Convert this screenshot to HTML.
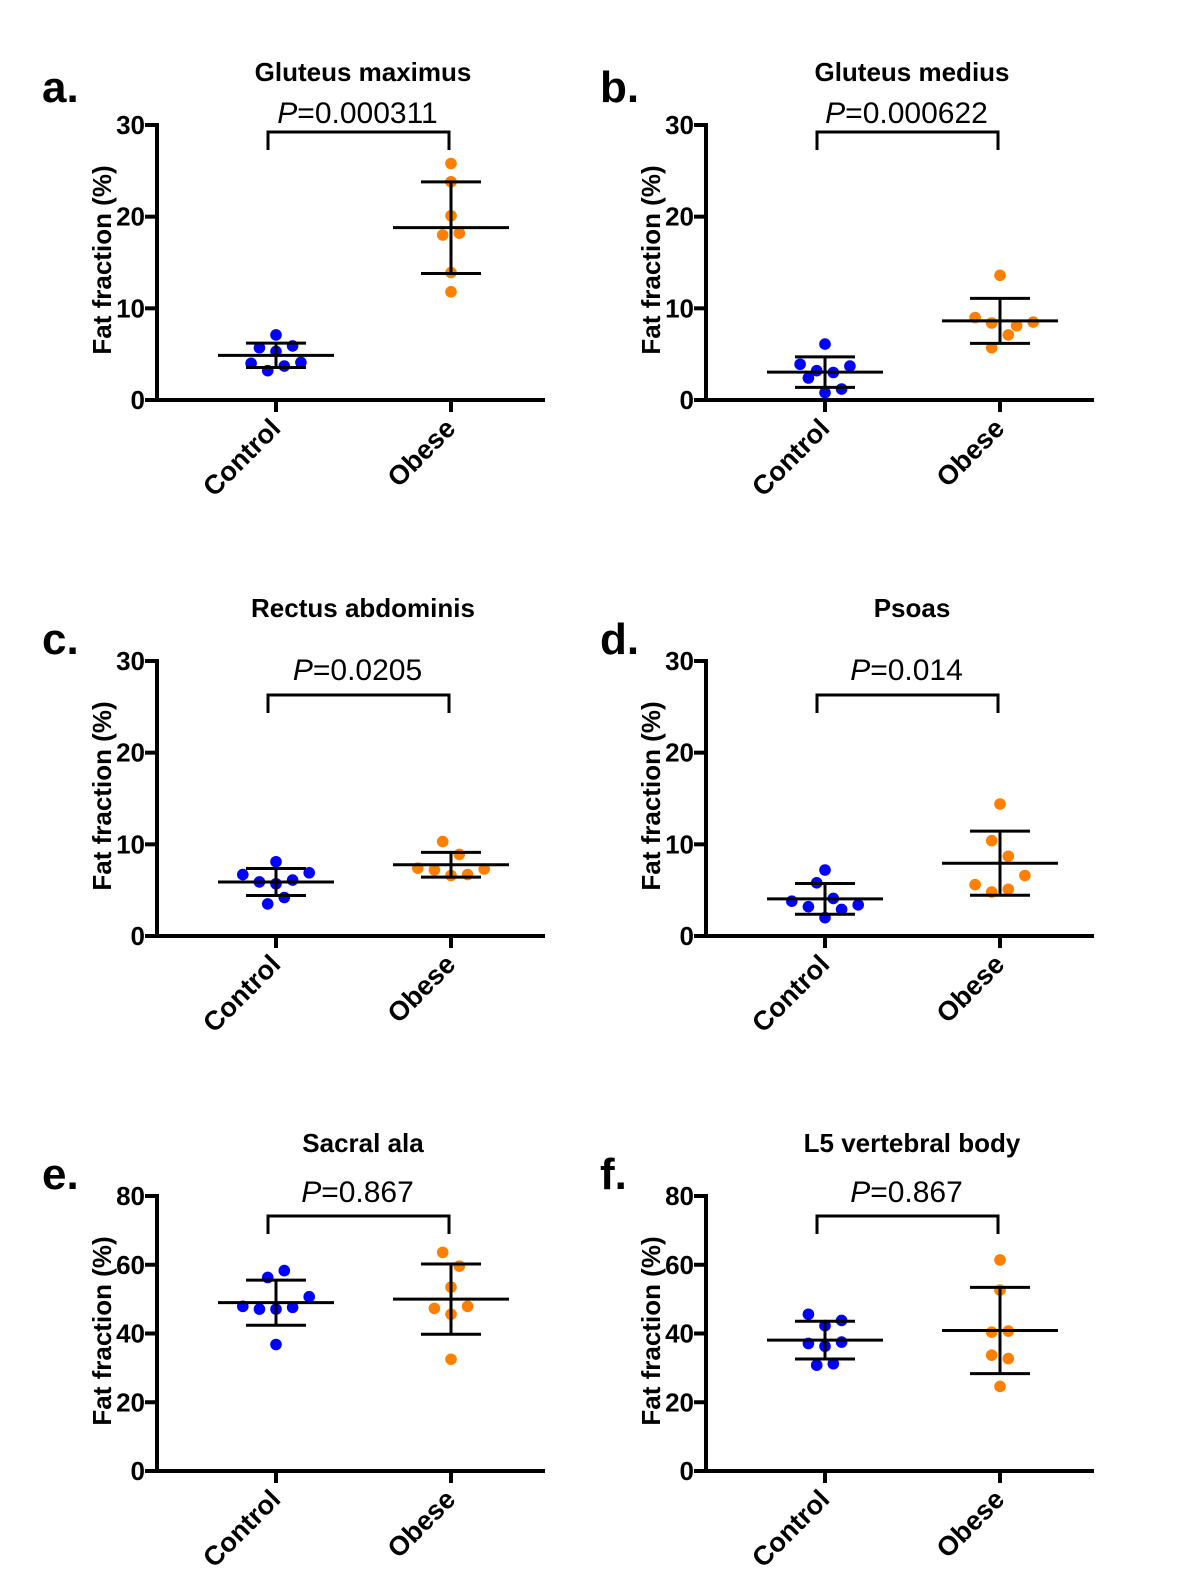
<!DOCTYPE html>
<html><head><meta charset="utf-8">
<style>
html,body{margin:0;padding:0;background:#fff;}
svg{display:block;font-family:"Liberation Sans",Arial,sans-serif;}
</style></head>
<body>
<svg id="fig" width="1178" height="1590" viewBox="0 0 1178 1590"></svg>
<script>
// ---- Data ----
const categories = ["Control", "Obese"];
const panelTitles = ["Gluteus maximus","Gluteus medius","Rectus abdominis","Psoas","Sacral ala","L5 vertebral body"];
const panelLetters = ["a.","b.","c.","d.","e.","f."];
const pLabels = ["0.000311","0.000622","0.0205","0.014","0.867","0.867"];
const yMaxes = [30,30,30,30,80,80];
const yTicksSmall = [0,10,20,30];
const yTicksLarge = [0,20,40,60,80];

const controlA = [7.1,5.7,5.9,5.3,4.0,4.1,3.7,3.2];
const controlASlots = [0,-2,2,0,-3,3,1,-1];
const obeseA = [25.8,23.8,20.1,18.0,18.2,13.9,11.8];
const obeseASlots = [0,0,0,-1,1,0,0];

const controlB = [6.1,3.9,3.7,3.2,3.0,2.4,1.2,0.8];
const controlBSlots = [0,-3,3,-1,1,-2,2,0];
const obeseB = [13.6,9.0,8.5,8.4,8.1,7.1,5.7];
const obeseBSlots = [0,-3,4,-1,2,1,-1];

const controlC = [8.1,6.7,6.9,5.9,6.1,5.7,4.2,3.5];
const controlCSlots = [0,-4,4,-2,2,0,1,-1];
const obeseC = [10.3,8.9,7.4,7.2,7.3,6.7,6.6];
const obeseCSlots = [-1,1,-4,-2,4,2,0];

const controlD = [7.2,5.8,3.8,4.1,3.2,3.4,2.9,2.0];
const controlDSlots = [0,-1,-4,1,-2,4,2,0];
const obeseD = [14.4,10.4,8.7,6.6,5.6,4.8,5.1];
const obeseDSlots = [0,-1,1,3,-3,-1,1];

const controlE = [58.3,56.3,50.7,47.9,47.1,47.1,47.6,36.8];
const controlESlots = [1,-1,4,-4,-2,0,2,0];
const obeseE = [63.6,59.6,53.5,47.3,47.9,45.6,32.5];
const obeseESlots = [-1,1,0,-2,2,0,0];

const controlF = [45.6,43.8,42.3,37.1,37.5,36.3,30.8,31.2];
const controlFSlots = [-2,2,0,-2,2,0,-1,1];
const obeseF = [61.4,52.6,40.4,40.7,33.7,32.7,24.6];
const obeseFSlots = [0,0,-1,1,-1,1,0];

const controlSeries = [controlA,controlB,controlC,controlD,controlE,controlF];
const controlSlots = [controlASlots,controlBSlots,controlCSlots,controlDSlots,controlESlots,controlFSlots];
const obeseSeries = [obeseA,obeseB,obeseC,obeseD,obeseE,obeseF];
const obeseSlots = [obeseASlots,obeseBSlots,obeseCSlots,obeseDSlots,obeseESlots,obeseFSlots];

// ---- Layout ----
const NS = "http://www.w3.org/2000/svg";
const svg = document.getElementById("fig");
const colAxisX = [157, 706];
const letterX = [42, 600];
const letterOff = [298, 282, 282];
const rowY0 = [400, 936, 1471];
const plotH = 275;
const catDX = [119, 294];
const axisLen = 388;
const slotW = 8.3;
const colors = ["#0000ff", "#ff8000"];
const bracketOff = [268, 241, 255];
const pOff = [277, 256, 269];

function el(tag, attrs, parent) {
  const e = document.createElementNS(NS, tag);
  for (const k in attrs) e.setAttribute(k, attrs[k]);
  (parent || svg).appendChild(e);
  return e;
}
function mean(a){return a.reduce((s,v)=>s+v,0)/a.length;}
function sd(a){const m=mean(a);return Math.sqrt(a.reduce((s,v)=>s+(v-m)*(v-m),0)/(a.length-1));}

for (let p = 0; p < 6; p++) {
  const col = p % 2, row = Math.floor(p / 2);
  const ax = colAxisX[col], y0 = rowY0[row];
  const ymax = yMaxes[p];
  const ticks = ymax === 30 ? yTicksSmall : yTicksLarge;
  const yS = v => y0 - v / ymax * plotH;
  const xS = c => ax + catDX[c];

  const g = el("g", {});
  
  

  const letter = el("text", {x: letterX[col], y: y0 - letterOff[row], "font-size": 44, "font-weight": "bold"}, g);
  letter.textContent = panelLetters[p];
  
  

  const title = el("text", {x: ax + 206, y: y0 - 319, "font-size": 26, "font-weight": "bold", "text-anchor": "middle"}, g);
  title.textContent = panelTitles[p];
  
  

  const yAxis = el("line", {x1: ax, y1: y0 + 2, x2: ax, y2: y0 - plotH - 2, stroke: "#000", "stroke-width": 4}, g);
  
  
  const xAxis = el("line", {x1: ax - 2, y1: y0, x2: ax + axisLen, y2: y0, stroke: "#000", "stroke-width": 4}, g);
  
  

  ticks.forEach(t => {
    const y = yS(t);
    const tk = el("line", {x1: ax - 12, y1: y, x2: ax, y2: y, stroke: "#000", "stroke-width": 4}, g);
    
    
    const tl = el("text", {x: ax - 12, y: y + 9, "font-size": 26, "font-weight": "bold", "text-anchor": "end"}, g);
    tl.textContent = t;
    
    
  });

  const yl = el("text", {x: 0, y: 0, "font-size": 26, "font-weight": "bold", "text-anchor": "middle",
    transform: `translate(${ax - 46},${y0 - 140}) rotate(-90)`}, g);
  yl.textContent = "Fat fraction (%)";
  
  

  categories.forEach((c, i) => {
    const x = xS(i);
    const tk = el("line", {x1: x, y1: y0, x2: x, y2: y0 + 12, stroke: "#000", "stroke-width": 4}, g);
    
    
    const lab = el("text", {x: 0, y: 0, "font-size": 27, "font-weight": "bold", "text-anchor": "end",
      transform: `translate(${x + 6},${y0 + 30}) rotate(-45)`}, g);
    lab.textContent = c;
    
    
  });

  const by = y0 - bracketOff[row];
  const br = el("path", {d: `M${xS(0) - 8},${by + 18} V${by} H${xS(1) - 2} V${by + 18}`, fill: "none", stroke: "#000", "stroke-width": 3}, g);
  
  
  const pt = el("text", {x: (xS(0) + xS(1)) / 2 - 6, y: y0 - pOff[row], "font-size": 30, "text-anchor": "middle"}, g);
  pt.innerHTML = '<tspan font-style="italic">P</tspan>=' + pLabels[p];
  
  

  [controlSeries[p], obeseSeries[p]].forEach((vals, i) => {
    const slots = i === 0 ? controlSlots[p] : obeseSlots[p];
    const cx = xS(i);
    const sg = el("g", {}, g);
    
    
    vals.forEach((v, k) => {
      const d = el("circle", {cx: cx + slots[k] * slotW, cy: yS(v), r: 5.8, fill: colors[i]}, sg);
      
      
    });
    const m = mean(vals), s = sd(vals);
    const ml = el("line", {x1: cx - 58, y1: yS(m), x2: cx + 58, y2: yS(m), stroke: "#000", "stroke-width": 3}, sg);
    
    
    const vl = el("line", {x1: cx, y1: yS(m + s), x2: cx, y2: yS(m - s), stroke: "#000", "stroke-width": 3}, sg);
    
    
    [m + s, m - s].forEach(v => {
      const c = el("line", {x1: cx - 30, y1: yS(v), x2: cx + 30, y2: yS(v), stroke: "#000", "stroke-width": 3}, sg);
      
      
    });
  });
}
</script>
</body></html>
